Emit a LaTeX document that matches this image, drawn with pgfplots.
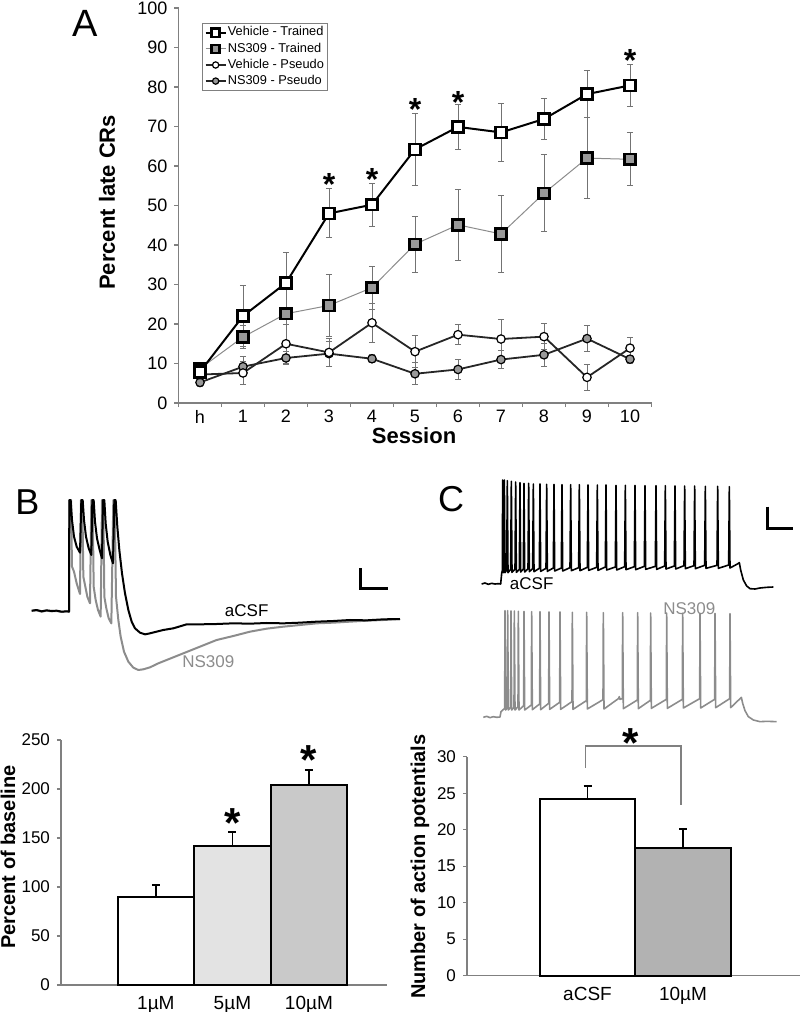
\documentclass[border=0pt]{standalone}
\usepackage{pgfplots}
\pgfplotsset{compat=1.18}
\usepackage{fontspec}
\setmainfont{Liberation Sans}

\definecolor{axisgray}{gray}{0.5}
\definecolor{errgray}{gray}{0.45}
\definecolor{markgray}{gray}{0.6}
\definecolor{tracegray}{gray}{0.55}
\definecolor{barlight}{gray}{0.89}
\definecolor{barmid}{gray}{0.79}
\definecolor{bardark}{gray}{0.70}

\newcommand{\fs}[1]{\fontsize{#1}{#1}\selectfont}

\pgfplotsset{
  panel/.style={
    scale only axis,
    axis lines*=left,
    axis line style={axisgray, line width=0.7pt},
    tick align=outside,
    major tick length=2pt,
    tick style={axisgray, line width=0.6pt},
    /pgf/number format/assume math mode=true,
  },
  trace/.style={
    scale only axis, hide axis, clip=false, y dir=reverse,
  },
}
\tikzset{
  star/.style={font=\fs{16}\bfseries, inner sep=0pt, yshift=-3.2pt},
  bigstar/.style={font=\fs{21}\bfseries, inner sep=0pt, yshift=-4.2pt},
}

\begin{document}
\begin{tikzpicture}
\path[use as bounding box] (0,0) rectangle (400pt,-506pt);

% ---------------- panel A: learning curves
\begin{axis}[panel,
  at={(89.25pt,-201.5pt)}, anchor=south west,
  width=236.5pt, height=197.5pt,
  xmin=-0.5, xmax=10.5, ymin=0, ymax=100,
  ytick={0,10,...,100},
  xtick={-0.5,0.5,...,10.5}, xticklabels={},
  extra x ticks={0,1,...,10},
  extra x tick labels={h,1,2,3,4,5,6,7,8,9,10},
  extra x tick style={major tick length=0pt},
  tick label style={font=\fs{9}},
  xlabel={\bfseries Session}, ylabel={\bfseries Percent late CRs},
  xlabel style={font=\fs{11}, at={(axis description cs:0.498,-0.083)}, anchor=center},
  ylabel style={font=\fs{11}, at={(axis description cs:-0.151,0.508)}, anchor=center},
  clip=false,
  reverse legend,
  legend cell align=left,
  legend style={at={(0.05,0.962)}, anchor=north west, font=\fs{6.4},
    draw=axisgray, line width=0.5pt, inner sep=1pt, row sep=0.7pt,
    nodes={inner sep=0.6pt}},
  legend image code/.code={\draw[#1, mark repeat=2, mark phase=2,
      every mark/.append style={scale=0.75}]
      plot coordinates {(0pt,0pt) (5pt,0pt) (10pt,0pt)};},
  error bars/error bar style={errgray, line width=0.45pt},
  error bars/error mark options={rotate=90, errgray, mark size=1.6pt, line width=0.45pt},
]
% NS309 - Pseudo
\addplot[black!85, line width=0.9pt, mark=*, mark size=2.1pt,
  mark options={fill=markgray, draw=black, line width=0.6pt},
  error bars/.cd, y dir=both, y explicit]
  table[x=s, y=m, y error=e] {
s m e
0 5.2 1.0
1 9.2 2.5
2 11.4 1.6
3 12.5 3.2
4 11.2 1.0
5 7.4 2.8
6 8.5 2.6
7 11.0 2.3
8 12.2 2.9
9 16.3 3.3
10 11.1 1.0
};
% Vehicle - Pseudo
\addplot[black!85, line width=0.9pt, mark=*, mark size=2.1pt,
  mark options={fill=white, draw=black, line width=0.6pt},
  error bars/.cd, y dir=both, y explicit]
  table[x=s, y=m, y error=e] {
s m e
0 7.2 1.5
1 7.6 3.0
2 15.0 5.0
3 12.8 3.5
4 20.3 5.0
5 13.0 4.0
6 17.3 2.6
7 16.2 5.0
8 16.8 3.3
9 6.5 3.2
10 13.9 2.8
};
% NS309 - Trained
\addplot[black!45, line width=0.5pt, mark=square*, mark size=2.7pt,
  mark options={fill=markgray, draw=black, line width=1.3pt},
  error bars/.cd, y dir=both, y explicit]
  table[x=s, y=m, y error=e] {
s m e
0 8.7 1.5
1 16.7 3.0
2 22.6 7.0
3 24.7 7.9
4 29.2 5.4
5 40.2 7.1
6 45.1 9.0
7 42.8 9.8
8 53.1 9.7
9 62.0 10.2
10 61.7 6.7
};
% Vehicle - Trained
\addplot[black, line width=1pt, mark=square*, mark size=2.7pt,
  mark options={fill=white, draw=black, line width=1.3pt},
  error bars/.cd, y dir=both, y explicit]
  table[x=s, y=m, y error=e] {
s m e
0 7.9 1.5
1 22.0 7.7
2 30.4 7.7
3 48.0 6.2
4 50.2 5.5
5 64.2 9.2
6 69.9 5.8
7 68.5 7.4
8 71.9 5.3
9 78.2 5.9
10 80.4 5.4
};
\legend{NS309 - Pseudo, Vehicle - Pseudo, NS309 - Trained, Vehicle - Trained}

% significance marks
\node[star] at (axis cs:3,56.9) {*};
\node[star] at (axis cs:4,58.2) {*};
\node[star] at (axis cs:5,75.9) {*};
\node[star] at (axis cs:6,77.8) {*};
\node[star] at (axis cs:10,88.3) {*};
\end{axis}
\node[font=\fs{19}, inner sep=0pt] at (42.5pt,-11.75pt) {A};

% ---------------- panel B: traces
\begin{axis}[trace,
  at={(0pt,-220pt)}, anchor=north west,
  width=200pt, height=125pt,
  xmin=0, xmax=1200, ymin=0, ymax=750,
]
\addplot[tracegray, line width=1pt, line join=round] coordinates {
(95,513) (110,511) (125,515) (140,512) (155,514) (170,513) (185,516) (200,514) (207,515)
(208,180) (213,180) (216,380) (222,395) (230,430) (240,462)
(243,180) (247,180) (250,410) (256,440) (262,470) (270,490)
(274,180) (278,180) (281,440) (287,480) (294,510) (302,530)
(306,180) (310,180) (313,470) (319,505) (326,535) (334,550)
(340,180) (344,180) (348,470) (355,540) (362,590) (372,635) (385,665) (400,683)
(415,690) (430,688) (450,682) (475,670) (500,660) (550,640) (600,620) (650,600)
(700,588) (750,575) (800,566) (850,560) (900,555) (950,550) (1000,548) (1050,545)
(1100,542) (1150,540) (1200,537)
};
\addplot[black, line width=1pt, line join=round] coordinates {
(95,512) (110,510) (125,514) (140,511) (155,513) (170,512) (185,515) (200,514) (207,515)
(208,180) (212,180) (216,240) (222,290) (230,320) (240,338)
(244,180) (248,180) (252,240) (258,290) (266,325) (274,345)
(277,180) (281,180) (285,245) (291,295) (299,330) (306,355)
(309,180) (313,180) (317,250) (323,305) (331,345) (339,370)
(343,180) (347,180) (352,260) (358,330) (366,400) (375,460) (385,510) (395,545)
(405,565) (420,578) (435,583) (450,580) (470,575) (490,570) (520,565) (560,553)
(600,553) (650,552) (700,550) (750,551) (800,549) (850,550) (900,548) (950,545)
(1000,543) (1050,540) (1100,541) (1150,538) (1200,537)
};
\addplot[black, line width=1.2pt] coordinates {(1082,385) (1082,445) (1165,445)};
\node[font=\fs{8.5}, inner sep=0pt] at (axis cs:740,512) {aCSF};
\node[font=\fs{8.5}, inner sep=0pt, text=tracegray] at (axis cs:625,665) {NS309};
\node[font=\fs{18}, inner sep=0pt] at (axis cs:82,187) {B};
\end{axis}

% ---------------- panel C: traces
\begin{axis}[trace,
  at={(200pt,-220pt)}, anchor=north west,
  width=200pt, height=150pt,
  xmin=0, xmax=1200, ymin=0, ymax=900,
]
\addplot[black, line width=0.8pt, line join=round] coordinates {
(245,432) (255,429) (265,433) (275,430) (285,432) (295,431) (302,432) (305,400)
(307,392) (308,120) (310,398) (312,390) (313,120) (315,398)
(320,390) (322,122) (324,398) (332,388) (334,124) (336,397)
(345,388) (347,126) (349,397) (358,388) (360,128) (362,396)
(370,387) (372,130) (374,396) (384,386) (386,130) (388,395)
(398,386) (400,132) (402,395) (418,385) (420,132) (422,394)
(438,385) (440,133) (442,394) (460,384) (462,133) (464,393)
(484,384) (486,134) (488,393) (510,383) (512,134) (514,392)
(536,383) (538,134) (540,392) (562,382) (564,135) (566,391)
(590,382) (592,135) (594,391) (616,381) (618,135) (620,390)
(646,381) (648,136) (650,390) (674,380) (676,136) (678,389)
(703,380) (705,136) (707,389) (733,379) (735,137) (737,388)
(766,379) (768,137) (770,388) (794,378) (796,137) (798,387)
(823,378) (825,138) (827,387) (852,377) (854,138) (856,386)
(882,377) (884,138) (886,386) (914,376) (916,139) (918,385)
(951,376) (953,139) (955,385) (986,375) (988,140) (990,384)
(1012,372) (1018,368) (1022,390) (1030,420) (1040,438) (1050,446) (1065,447)
(1080,444) (1100,442) (1120,441)
};
\addplot[tracegray, line width=0.8pt, line join=round] coordinates {
(250,832) (260,829) (270,833) (280,830) (290,832) (300,831) (303,815)
(314,805) (315,512) (317,810) (322,803) (323,512) (325,810)
(332,802) (333,513) (335,810) (342,802) (343,513) (345,810)
(354,800) (355,514) (357,810) (371,797) (372,514) (374,810)
(394,795) (395,515) (397,809) (419,792) (420,515) (422,809)
(446,790) (447,516) (449,808) (479,787) (480,516) (482,808)
(516,785) (517,517) (519,808) (559,782) (560,517) (562,807)
(609,779) (610,518) (612,807) (655,776) (658,770) (660,778)
(667,776) (668,518) (670,806) (712,780) (713,518) (715,806)
(751,781) (752,519) (754,805) (799,778) (800,519) (802,805)
(847,778) (848,520) (850,804) (899,776) (900,520) (902,804)
(944,778) (945,520) (947,803) (989,776) (990,521) (992,803)
(1018,778) (1024,772) (1028,790) (1035,812) (1045,830) (1060,840)
(1080,845) (1100,844) (1130,845)
};
\addplot[black, line width=1.2pt] coordinates {(1102,200) (1102,265) (1180,265)};
\node[font=\fs{8.5}, inner sep=0pt] at (axis cs:395,432) {aCSF};
\node[font=\fs{8.5}, inner sep=0pt, text=tracegray] at (axis cs:868,505) {NS309};
\node[font=\fs{18}, inner sep=0pt] at (axis cs:153,177) {C};
\end{axis}

% ---------------- panel B: bars
\begin{axis}[panel,
  at={(30.5pt,-492.5pt)}, anchor=south west,
  width=163pt, height=122.5pt,
  xmin=-1.24, xmax=3.02, ymin=0, ymax=250,
  ytick={0,50,...,250},
  xtick={0,1,2}, xticklabels={1µM,5µM,10µM},
  x tick style={draw=none},
  yticklabel style={font=\fs{8.5}},
  xticklabel style={font=\fs{9.5}},
  ylabel={\bfseries Percent of baseline},
  ylabel style={font=\fs{10}, at={(axis description cs:-0.163,0.522)}, anchor=center},
  clip=false,
  error bars/error bar style={black, line width=0.9pt},
  error bars/error mark options={rotate=90, black, mark size=2pt, line width=0.9pt},
]
\addplot[ybar, bar width=1, bar shift=0pt, fill=white, draw=black, line width=1pt,
  error bars/.cd, y dir=plus, y explicit] coordinates {(0,89.5) +- (0,12.5)};
\addplot[ybar, bar width=1, bar shift=0pt, fill=barlight, draw=black, line width=1pt,
  error bars/.cd, y dir=plus, y explicit] coordinates {(1,142) +- (0,14)};
\addplot[ybar, bar width=1, bar shift=0pt, fill=barmid, draw=black, line width=1pt,
  error bars/.cd, y dir=plus, y explicit] coordinates {(2,204) +- (0,15.5)};
\node[bigstar] at (axis cs:1,173.5) {*};
\node[bigstar] at (axis cs:2,237.8) {*};
\end{axis}

% ---------------- panel C: bars
\begin{axis}[panel,
  at={(233.5pt,-487.85pt)}, anchor=south west,
  width=166.5pt, height=109.5pt,
  xmin=-1.262, xmax=2.225, ymin=0, ymax=30,
  ytick={0,5,...,30},
  xtick={0,1}, xticklabels={aCSF,10µM},
  x tick style={draw=none},
  yticklabel style={font=\fs{8.5}},
  xticklabel style={font=\fs{9.5}},
  ylabel={\bfseries Number of action potentials},
  ylabel style={font=\fs{10}, at={(axis description cs:-0.141,0.498)}, anchor=center},
  clip=false,
  error bars/error bar style={black, line width=0.9pt},
  error bars/error mark options={rotate=90, black, mark size=2pt, line width=0.9pt},
]
\addplot[ybar, bar width=1, bar shift=0pt, fill=white, draw=black, line width=1pt,
  error bars/.cd, y dir=plus, y explicit] coordinates {(0,24.2) +- (0,1.8)};
\addplot[ybar, bar width=1, bar shift=0pt, fill=bardark, draw=black, line width=1pt,
  error bars/.cd, y dir=plus, y explicit] coordinates {(1,17.5) +- (0,2.55)};
\draw[axisgray, line width=0.8pt] (axis cs:-0.02,28.5) -- (axis cs:-0.02,31.5)
  -- (axis cs:0.98,31.5) -- (axis cs:0.98,23.4);
\node[bigstar] at (axis cs:0.45,33.0) {*};
\end{axis}
\end{tikzpicture}
\end{document}
